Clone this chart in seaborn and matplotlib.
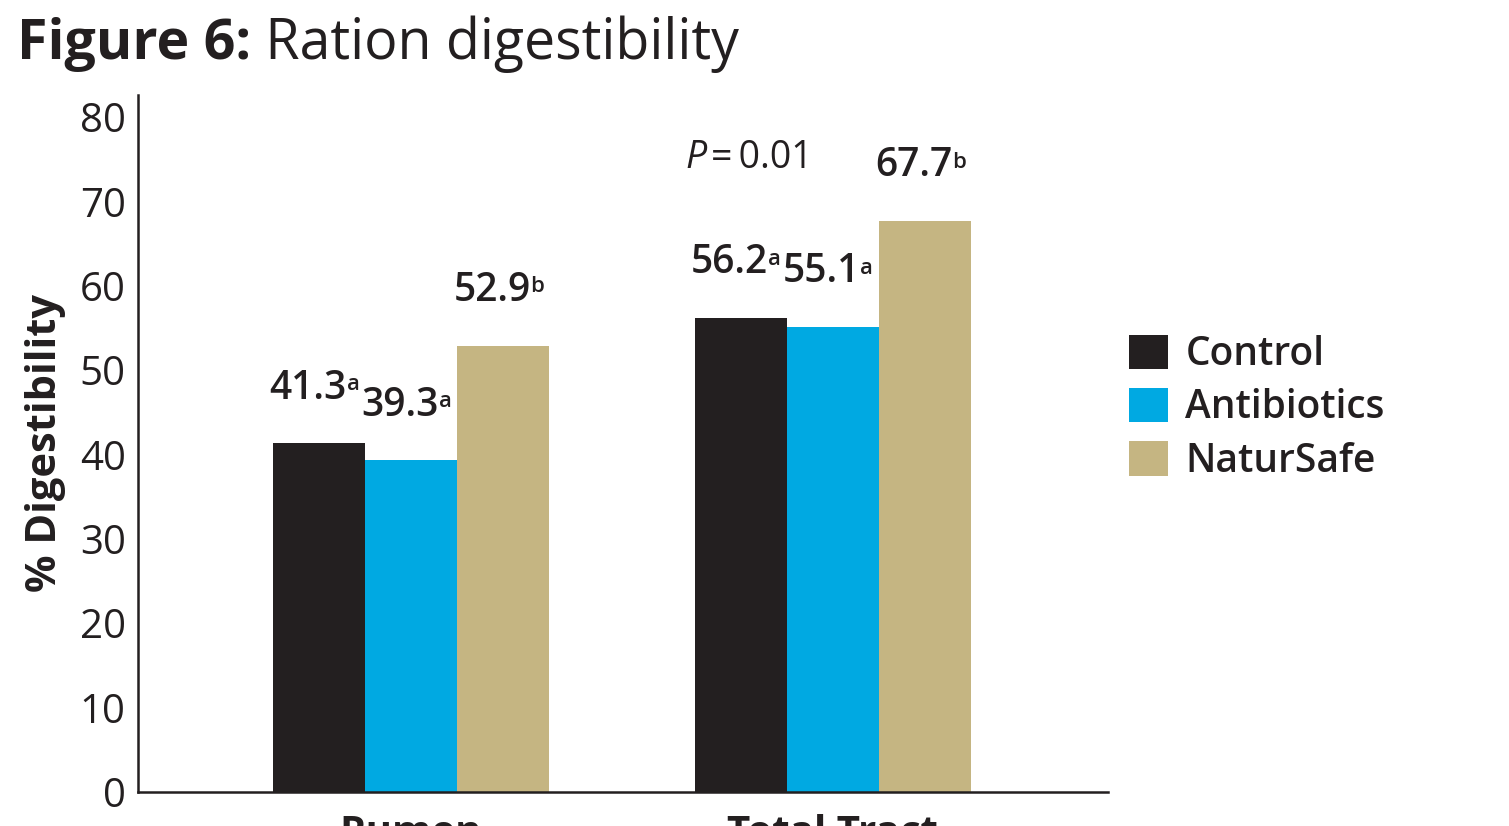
import matplotlib
matplotlib.use("Agg")
import matplotlib.pyplot as plt
import seaborn as sns
import pandas as pd
from matplotlib.patches import Patch

# ---- data ----
sites = ["Rumen", "Total Tract"]
treatments = ["Control", "Antibiotics", "NaturSafe"]
control = [41.3, 56.2]
antibiotics = [39.3, 55.1]
natursafe = [52.9, 67.7]
letters_control = ["a", "a"]
letters_antibiotics = ["a", "a"]
letters_natursafe = ["b", "b"]
yticks = [0, 10, 20, 30, 40, 50, 60, 70, 80]
p_text = "0.01"

colors = ["#231f20", "#00a9e2", "#c5b582"]

rows = []
for t, vals in zip(treatments, [control, antibiotics, natursafe]):
    for s, v in zip(sites, vals):
        rows.append({"site": s, "treatment": t, "value": v})
df = pd.DataFrame(rows)
letters = [letters_control, letters_antibiotics, letters_natursafe]

sns.set_style("white")
FONT = ["Open Sans", "DejaVu Sans"]
plt.rcParams["font.family"] = FONT
plt.rcParams["text.color"] = "#231f20"

fig = plt.figure(figsize=(15.09, 8.26), dpi=100)
ax = fig.add_axes([0.0915, 0.0412, 0.734 - 0.0915, 0.885 - 0.0412])

sns.barplot(data=df, x="site", y="value", hue="treatment", order=sites,
            hue_order=treatments, palette=colors, width=0.654, saturation=1,
            legend=False, ax=ax, edgecolor="none", linewidth=0)

ax.set_xlim(-0.647, 1.652)
ax.set_ylim(0, 82.6)
ax.set_yticks(yticks)
ax.set_yticklabels([str(v) for v in yticks], fontsize=29, color="#231f20")
ax.set_xticks(range(len(sites)))
ax.set_xticklabels(sites, fontsize=29, fontweight="bold", color="#231f20")
ax.tick_params(axis="both", length=0)
ax.tick_params(axis="y", pad=9)
ax.tick_params(axis="x", pad=16)
ax.set_xlabel("")
ax.set_ylabel("% Digestibility", fontsize=30, fontweight="bold", labelpad=10,
              color="#231f20")
for side in ["top", "right"]:
    ax.spines[side].set_visible(False)
for side in ["left", "bottom"]:
    ax.spines[side].set_color("#231f20")
    ax.spines[side].set_linewidth(1.8)

# value labels with superscript letters
for ci, cont in enumerate(ax.containers):
    for bi, bar in enumerate(cont):
        xc = bar.get_x() + bar.get_width() / 2
        h = bar.get_height()
        t = ax.text(xc - 0.026, h + 5.3, f"{h:.1f}", ha="center", va="baseline",
                    fontsize=28, fontweight="semibold", color="#231f20")
        ax.annotate(letters[ci][bi], xy=(1, 1), xycoords=t, xytext=(0, -4),
                    textcoords="offset points", ha="left", va="top",
                    fontsize=16, fontweight="semibold", color="#231f20")

# P value
pt = ax.text(0.652, 74.0, "P", fontsize=27, style="italic", ha="left",
             va="baseline", color="#231f20")
ax.annotate("=\u2009" + p_text, xy=(1, 0), xycoords=pt, xytext=(3, 0),
            textcoords="offset points", ha="left", va="bottom",
            fontsize=27, color="#231f20")

# legend
handles = [Patch(facecolor=c, edgecolor="none", label=t)
           for c, t in zip(colors, treatments)]
leg = fig.legend(handles=handles, loc="center left",
                 bbox_to_anchor=(0.725, 0.506), frameon=False,
                 prop={"size": 28, "weight": "semibold"},
                 handlelength=1.0, handleheight=1.0, handletextpad=0.45,
                 labelspacing=0.32)

# title
t1 = fig.text(0.011, 0.928, "Figure 6:", fontsize=40, fontweight="bold",
              ha="left", va="baseline", color="#231f20")
fig.canvas.draw()
bb = t1.get_window_extent()
fig.text(bb.x1 / fig.bbox.width, 0.928, " Ration digestibility", fontsize=40,
         ha="left", va="baseline", color="#231f20")

fig.savefig("out.png", dpi=100)
